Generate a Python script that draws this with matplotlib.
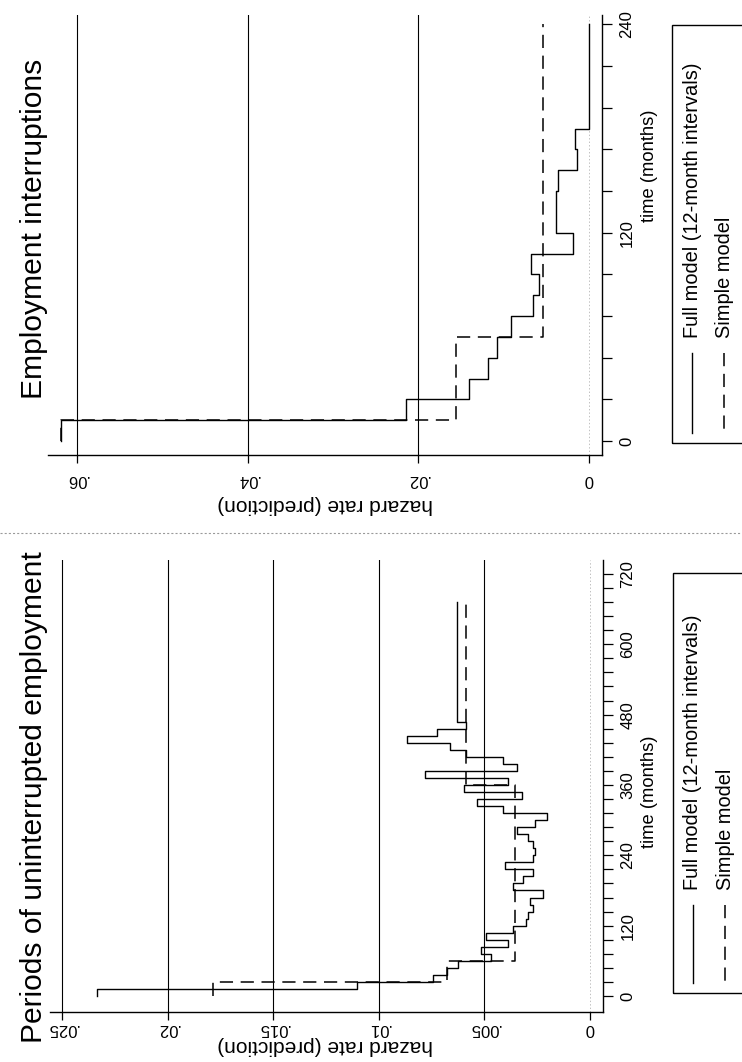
import numpy as np
import matplotlib
matplotlib.use("Agg")
from matplotlib import pyplot as plt
from matplotlib.lines import Line2D
from matplotlib.patches import Rectangle

plt.rcParams["font.family"] = "Liberation Sans"
plt.rcParams["lines.scale_dashes"] = False

W, H = 742, 1062  # output size in pixels (dpi 100)

# --- Periods of uninterrupted employment (hazard per interval, time in months) ---
EMP_FULL_EDGES = [0, 12, 24, 36, 48, 60, 72, 84, 96, 108, 120, 132, 144, 156, 168, 180,
                  192, 204, 216, 228, 240, 252, 264, 276, 288, 300, 312, 324, 336, 348,
                  360, 372, 384, 396, 408, 420, 432, 444, 456, 468, 672]
EMP_FULL = [0.02333, 0.01103, 0.00743, 0.00677, 0.00625, 0.0047, 0.00518, 0.00387,
            0.00492, 0.00363, 0.00303, 0.00292, 0.00268, 0.00284, 0.00221, 0.00363,
            0.00316, 0.00268, 0.00402, 0.0027, 0.0026, 0.0027, 0.00292, 0.00347,
            0.0026, 0.00205, 0.0041, 0.00536, 0.00323, 0.00597, 0.00387, 0.00781,
            0.00347, 0.0041, 0.00587, 0.00663, 0.00868, 0.00724, 0.00587, 0.00631]
EMP_SIMPLE_EDGES = [0, 24, 60, 360, 672]
EMP_SIMPLE = [0.01785, 0.00677, 0.00355, 0.00587]

# --- Employment interruptions ---
INT_FULL_EDGES = [0, 12, 24, 36, 48, 60, 72, 84, 96, 108, 120, 132, 144, 156, 168, 180, 240]
INT_FULL = [0.06188, 0.02145, 0.01406, 0.01187, 0.01082, 0.00918, 0.0066, 0.00582,
            0.00683, 0.00191, 0.0039, 0.0039, 0.0036, 0.00137, 0.00164, 0.0]
INT_SIMPLE_EDGES = [0, 12, 60, 240]
INT_SIMPLE = [0.06188, 0.01562, 0.00539]

# axis ticks / labels
EMP_HAZ_TICKS = [0.025, 0.02, 0.015, 0.01, 0.005, 0]
EMP_HAZ_LABELS = [".025", ".02", ".015", ".01", ".005", "0"]
EMP_TIME_TICKS = [0, 120, 240, 360, 480, 600, 720]
INT_HAZ_TICKS = [0.06, 0.04, 0.02, 0]
INT_HAZ_LABELS = [".06", ".04", ".02", "0"]
INT_TIME_TICKS = [0, 120, 240]

TITLES = ["Periods of uninterrupted employment", "Employment interruptions"]
LEGEND_LABELS = ["Full model (12-month intervals)", "Simple model"]
HAZ_TITLE = "hazard rate (prediction)"
TIME_TITLE = "time (months)"


def fx(x):
    return x / W


def fy(y):
    return 1 - y / H


fig = plt.figure(figsize=(W / 100, H / 100), dpi=100)
fig.patch.set_facecolor("white")


def draw_panel(box, haz_lim, time_lim, full_edges, full, simple_edges, simple,
               haz_ticks, haz_labels, time_ticks, minor_step, xpad):
    # the page is scanned sideways: time runs up the page, hazard runs right-to-left
    x0, y0, x1, y1 = box
    ax = fig.add_axes([fx(x0), fy(y1), (x1 - x0) / W, (y1 - y0) / H])
    ax.set_xlim(*haz_lim)
    ax.set_ylim(*time_lim)
    ax.patch.set_alpha(0)

    for h in haz_ticks:
        if h == 0:
            ax.axvline(h, color="#b5b5b5", lw=0.6, ls=(0, (1, 1.5)), zorder=1)
        else:
            ax.axvline(h, color="black", lw=0.8, zorder=1)

    ax.step(full + [full[-1]], full_edges, where="pre", color="black", lw=1.0, zorder=3)
    ax.step(simple + [simple[-1]], simple_edges, where="pre", color="black", lw=1.1,
            ls=(0, (9.5, 5.5)), zorder=2)

    ax.spines[["top", "left"]].set_visible(False)
    ax.spines["right"].set_linewidth(1.0)
    ax.spines["bottom"].set_linewidth(1.0)

    ax.yaxis.tick_right()
    ax.set_xticks(haz_ticks, haz_labels, rotation=180, fontsize=12)
    ax.set_yticks(time_ticks, [str(t) for t in time_ticks], rotation=90, va="center",
                  fontsize=12)
    ax.set_yticks(np.arange(0, time_ticks[-1] + 1, minor_step), minor=True)
    ax.tick_params(axis="y", which="both", length=7, width=0.9, pad=5.6)
    ax.tick_params(axis="x", length=6, width=0.9, pad=xpad)
    return ax


def draw_legend(x0, y_top, y_bot, x_full, x_simple, y_line0, y_line1, y_text):
    fig.add_artist(Rectangle((fx(x0), fy(y_bot)), (W + 20 - x0) / W, (y_bot - y_top) / H,
                             transform=fig.transFigure, fill=False, lw=1.0, ec="black"))
    fig.add_artist(Line2D([fx(x_full)] * 2, [fy(y_line0), fy(y_line1)],
                          transform=fig.transFigure, color="black", lw=1.0))
    fig.add_artist(Line2D([fx(x_simple)] * 2, [fy(y_line0), fy(y_line1)],
                          transform=fig.transFigure, color="black", lw=1.1,
                          ls=(0, (9.5, 5.5))))
    fig.text(fx(x_full + 6), fy(y_text), LEGEND_LABELS[0], rotation=90,
             rotation_mode="anchor", ha="left", va="baseline", fontsize=14.4)
    fig.text(fx(x_simple + 6), fy(y_text), LEGEND_LABELS[1], rotation=90,
             rotation_mode="anchor", ha="left", va="baseline", fontsize=14.4)


# left panel: periods of uninterrupted employment
draw_panel((50, 560, 603, 1012), (0.02557, -0.000616), (-27.3, 743.8),
           EMP_FULL_EDGES, EMP_FULL, EMP_SIMPLE_EDGES, EMP_SIMPLE,
           EMP_HAZ_TICKS, EMP_HAZ_LABELS, EMP_TIME_TICKS, 24, 0.3)
fig.text(fx(42.5), fy(797), TITLES[0], rotation=90, rotation_mode="anchor",
         ha="center", va="baseline", fontsize=21.6)
fig.text(fx(325), fy(1045), HAZ_TITLE, rotation=180, ha="center", va="center",
         fontsize=15)
fig.text(fx(649.5), fy(792), TIME_TITLE, rotation=90, ha="center", va="center",
         fontsize=13.2)
draw_legend(672.7, 573, 993, 692.5, 725, 905, 983, 890)

# right panel: employment interruptions
draw_panel((48, 15, 602, 455), (0.0634, -0.00152), (-8.06, 245.4),
           INT_FULL_EDGES, INT_FULL, INT_SIMPLE_EDGES, INT_SIMPLE,
           INT_HAZ_TICKS, INT_HAZ_LABELS, INT_TIME_TICKS, 24, 6)
fig.text(fx(42.5), fy(229), TITLES[1], rotation=90, rotation_mode="anchor",
         ha="center", va="baseline", fontsize=21.6)
fig.text(fx(325), fy(504), HAZ_TITLE, rotation=180, ha="center", va="center",
         fontsize=15)
fig.text(fx(649.5), fy(166), TIME_TITLE, rotation=90, ha="center", va="center",
         fontsize=13.2)
draw_legend(671.7, 25, 443, 692.3, 724, 353, 433, 338)

# faint fold line from the scan between the two panels
fig.add_artist(Line2D([0, 1], [fy(533), fy(533)], transform=fig.transFigure,
                      color="#9a9a9a", lw=0.8, ls=(0, (1.5, 1.5))))

fig.savefig("out.png", dpi=100, facecolor="white")
